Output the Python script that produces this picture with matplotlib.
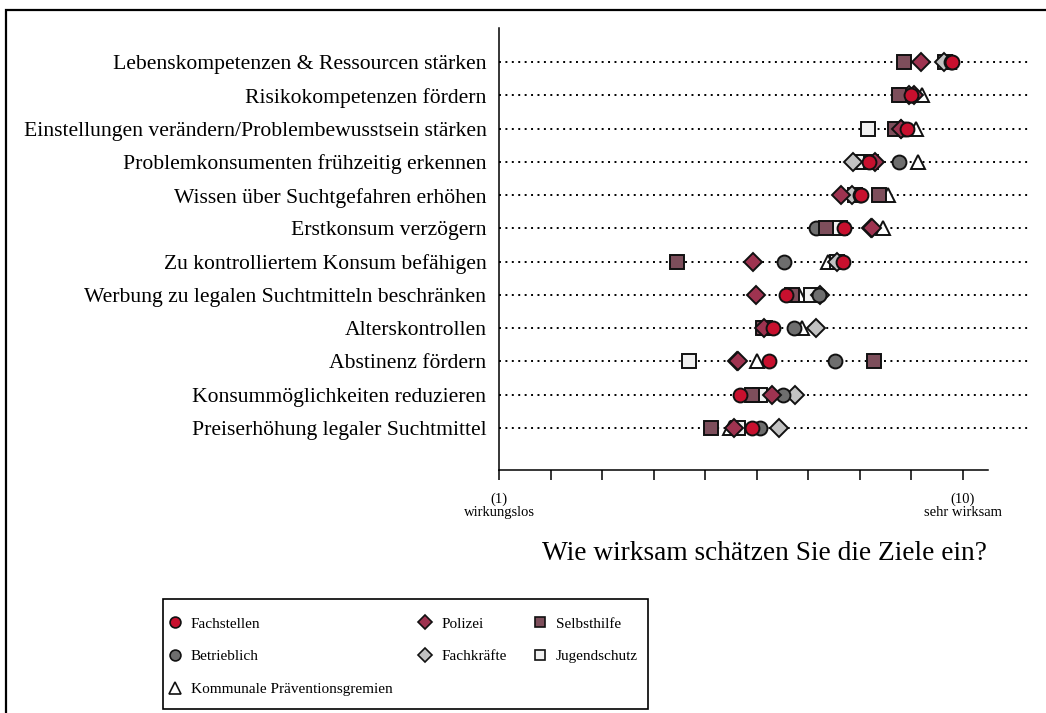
import matplotlib
matplotlib.use("Agg")
import matplotlib.pyplot as plt
from matplotlib.lines import Line2D
from matplotlib.patches import Rectangle

plt.rcParams["font.family"] = ["Liberation Serif", "DejaVu Serif"]

# Ziele (von oben nach unten)
ziele = [
    "Lebenskompetenzen & Ressourcen stärken",
    "Risikokompetenzen fördern",
    "Einstellungen verändern/Problembewusstsein stärken",
    "Problemkonsumenten frühzeitig erkennen",
    "Wissen über Suchtgefahren erhöhen",
    "Erstkonsum verzögern",
    "Zu kontrolliertem Konsum befähigen",
    "Werbung zu legalen Suchtmitteln beschränken",
    "Alterskontrollen",
    "Abstinenz fördern",
    "Konsummöglichkeiten reduzieren",
    "Preiserhöhung legaler Suchtmittel",
]

# Mittelwerte je Gruppe (Skala 1-10)
fachstellen = [9.79, 9.00, 8.91, 8.18, 8.02, 7.70, 7.68, 6.56, 6.31, 6.24, 5.67, 5.90]
betrieblich = [9.76, 9.00, 8.86, 8.75, 8.00, 7.14, 6.53, 7.21, 6.73, 7.52, 6.50, 6.06]
kommunale = [9.72, 9.20, 9.08, 9.12, 8.55, 8.45, 7.39, 6.81, 6.87, 6.00, 5.95, 5.48]
polizei = [9.18, 9.05, 8.79, 8.29, 7.63, 8.24, 5.92, 5.98, 6.14, 5.63, 6.29, 5.56]
fachkraefte = [9.63, 8.95, 8.80, 7.87, 7.84, 8.22, 7.55, 7.23, 7.14, 5.61, 6.74, 6.44]
selbsthilfe = [8.86, 8.76, 8.69, 8.22, 8.38, 7.34, 4.45, 6.69, 6.13, 8.28, 5.90, 5.11]
jugendschutz = [9.66, 8.85, 8.15, 8.00, 7.90, 7.61, 7.55, 7.05, 6.15, 4.68, 6.06, 5.64]

# (label, values, marker, facecolor, size, zorder)
gruppen = [
    ("Fachstellen", fachstellen, "o", "#c8102e", 10, 9),
    ("Betrieblich", betrieblich, "o", "#6e6e6e", 10, 6),
    ("Kommunale Präventionsgremien", kommunale, "^", "white", 10.5, 3),
    ("Polizei", polizei, "D", "#9e3350", 9.5, 8),
    ("Fachkräfte", fachkraefte, "D", "#c2c2c2", 9.5, 5),
    ("Selbsthilfe", selbsthilfe, "s", "#7d4e5b", 9.5, 7),
    ("Jugendschutz", jugendschutz, "s", "#f0f0f0", 9.5, 4),
]

fig = plt.figure(figsize=(10.46, 7.13), dpi=100)
ax = fig.add_axes([499 / 1046, 243 / 713, 531 / 1046, 442 / 713])

ypos = list(range(len(ziele)))
ax.hlines(ypos, 1, 11.3, colors="black", linestyles=(0, (1, 2.3)), lw=1.4, zorder=1)

handles = []
for name, vals, mk, fc, ms, z in gruppen:
    ax.plot(vals, ypos, ls="none", marker=mk, ms=ms, mfc=fc, mec="#111111",
            mew=1.4, zorder=z, clip_on=False)
    handles.append(Line2D([], [], ls="none", marker=mk, ms=ms * 0.78, mfc=fc,
                          mec="#111111", mew=1.2, label=name))

ax.set_xlim(1, 11.3)
ax.set_ylim(11 + 1.26, -1.02)
ax.set_yticks(ypos)
ax.set_yticklabels(ziele, fontsize=15.6)
ax.tick_params(axis="y", length=0, pad=9)

ticks = list(range(1, 11))
tlabels = ["" for t in ticks]
tlabels[0] = "(1)\nwirkungslos"
tlabels[-1] = "(10)\nsehr wirksam"
ax.set_xticks(ticks)
ax.set_xticklabels(tlabels, fontsize=10.5, linespacing=1.0)
ax.tick_params(axis="x", length=7, width=1.1, pad=9)
ax.set_xlabel("Wie wirksam schätzen Sie die Ziele ein?", fontsize=19.7, labelpad=16)

for s in ["top", "right"]:
    ax.spines[s].set_visible(False)
ax.spines["left"].set_linewidth(1.1)
ax.spines["bottom"].set_linewidth(1.1)
ax.spines["bottom"].set_bounds(1, 10.48)

leg = fig.legend(handles=handles, ncol=3, loc="upper left",
                 bbox_to_anchor=(167 / 1046, 1 - 617 / 713), borderaxespad=0,
                 fontsize=11, frameon=False, borderpad=0,
                 handlelength=1.0, handletextpad=0.55, columnspacing=1.65,
                 labelspacing=1.24)

# Rahmen der Legende
fig.add_artist(Rectangle((163 / 1046, 1 - 709 / 713), 485 / 1046, 110 / 713,
                         fill=False, edgecolor="black", lw=1.2,
                         transform=fig.transFigure))
# Rahmen um die Abbildung
fig.add_artist(Rectangle((6 / 1046, -0.1), 1.2, 1.1 - 10 / 713, fill=False,
                         edgecolor="black", lw=1.6, transform=fig.transFigure))

fig.savefig("out.png", dpi=100)
